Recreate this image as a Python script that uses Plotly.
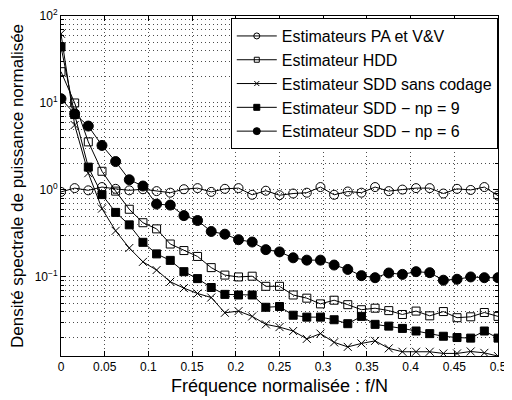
import plotly.graph_objects as go

k = list(range(33))
freq = [i / 64 for i in k]

pa_vv = [0.95, 1.05, 0.99, 1.08, 1.03, 0.99, 1.02, 0.97, 0.93, 1.02, 1.05, 0.95, 1.03, 1.05,
         0.88, 0.98, 0.87, 0.91, 0.93, 1.08, 0.88, 0.96, 0.93, 1.08, 0.97, 1.01, 1.05, 1.05,
         0.91, 1.03, 1.00, 1.08, 0.86]
hdd = [22.9, 10.0, 3.57, 1.64, 0.97, 0.60, 0.42, 0.357, 0.239, 0.201, 0.172, 0.128, 0.105,
       0.100, 0.102, 0.078, 0.078, 0.062, 0.057, 0.049, 0.054, 0.048, 0.042, 0.0437, 0.041,
       0.037, 0.0405, 0.0357, 0.040, 0.034, 0.0348, 0.039, 0.0352]
sdd_sans = [62.4, 5.58, 1.56, 0.61, 0.339, 0.215, 0.149, 0.12, 0.088, 0.0744, 0.0645, 0.058,
            0.0387, 0.0405, 0.0352, 0.0285, 0.0265, 0.0239, 0.0194, 0.0223, 0.0177, 0.0157,
            0.0172, 0.0184, 0.0151, 0.0138, 0.0138, 0.0138, 0.0132, 0.0132, 0.0139, 0.0134,
            0.0123]
sdd_np9 = [44.1, 7.36, 1.83, 0.884, 0.552, 0.397, 0.25, 0.184, 0.155, 0.115, 0.0957, 0.0756,
           0.063, 0.062, 0.062, 0.0448, 0.0457, 0.0363, 0.0345, 0.0345, 0.0322, 0.029, 0.0352,
           0.0285, 0.0272, 0.0256, 0.0239, 0.0223, 0.0208, 0.0201, 0.0198, 0.0239, 0.0198]
sdd_np6 = [11.2, 7.5, 5.43, 3.25, 2.12, 1.31, 1.11, 0.688, 0.67, 0.507, 0.445, 0.333, 0.31,
           0.268, 0.252, 0.206, 0.194, 0.166, 0.156, 0.156, 0.137, 0.122, 0.1035, 0.098, 0.111,
           0.107, 0.115, 0.112, 0.0917, 0.094, 0.1, 0.098, 0.098]

x_ticks = [0, 0.05, 0.1, 0.15, 0.2, 0.25, 0.3, 0.35, 0.4, 0.45, 0.5]
x_ticklabels = ["0", "0.05", "0.1", "0.15", "0.2", "0.25", "0.3", "0.35", "0.4", "0.45", "0.5"]
y_ticks = [0.1, 1, 10, 100]
y_ticklabels = ["10<sup>\u22121</sup>", "10<sup>0</sup>", "10<sup>1</sup>", "10<sup>2</sup>"]

names = ["Estimateurs PA et V&V", "Estimateur HDD", "Estimateur SDD sans codage",
         "Estimateur SDD \u2212 np = 9", "Estimateur SDD \u2212 np = 6"]
series = [pa_vv, hdd, sdd_sans, sdd_np9, sdd_np6]
symbols = ["circle-open", "square-open", "x-thin-open", "square", "circle"]
sizes = [9, 8, 8, 8, 10]
legend_sizes = [6, 5, 5, 6, 7]

fig = go.Figure()
for name, ys, sym, sz in zip(names, series, symbols, sizes):
    fig.add_trace(go.Scatter(
        x=freq, y=ys, mode="lines+markers", name=name, showlegend=False,
        line=dict(color="black", width=1),
        marker=dict(symbol=sym, size=sz, color="black",
                    line=dict(color="black", width=1)),
    ))
# legend entries (smaller symbols, like the reference legend)
for name, sym, sz in zip(names, symbols, legend_sizes):
    fig.add_trace(go.Scatter(
        x=[None], y=[None], mode="lines+markers", name=name, showlegend=True,
        line=dict(color="black", width=1),
        marker=dict(symbol=sym, size=sz, color="black",
                    line=dict(color="black", width=1)),
    ))

font = "Liberation Sans, Arial, sans-serif"
grid = "rgba(0,0,0,0.7)"
# the page body adds an 8px margin, so the figure is 504x392
fig.update_layout(
    width=504, height=392,
    margin=dict(l=53, r=14, t=8, b=44),
    paper_bgcolor="white", plot_bgcolor="white",
    font=dict(family=font, color="black", size=12),
    showlegend=True,
    legend=dict(x=0.9995, y=0.994, xanchor="right", yanchor="top",
                bgcolor="white", bordercolor="black", borderwidth=1,
                font=dict(size=16, family=font), tracegroupgap=0,
                itemwidth=40),
)
fig.update_xaxes(
    range=[0, 0.5], tickvals=x_ticks, ticktext=x_ticklabels, automargin=False,
    showline=True, linecolor="black", linewidth=1, mirror="ticks",
    ticks="inside", ticklen=5, tickcolor="black",
    showgrid=True, gridcolor=grid, griddash="1px,3px", gridwidth=1,
    zeroline=False, ticklabeloverflow="allow",
    title=dict(text="Fréquence normalisée : f/N", font=dict(size=18), standoff=5),
    tickfont=dict(size=12),
)
fig.update_yaxes(
    type="log", range=[-1.909, 2], automargin=False,
    tickvals=y_ticks, ticktext=y_ticklabels, ticklabeloverflow="allow",
    showline=True, linecolor="black", linewidth=1, mirror="ticks",
    ticks="inside", ticklen=5, tickcolor="black",
    showgrid=True, gridcolor=grid, griddash="1px,3px", gridwidth=1,
    minor=dict(showgrid=True, gridcolor=grid, griddash="1px,3px",
               ticks="inside", ticklen=3, tickcolor="black",
               tickvals=[v * m for m in [0.01, 0.1, 1, 10] for v in range(2, 10)]),
    zeroline=False,
    title=dict(text="Densité spectrale de puissance normalisée", font=dict(size=17), standoff=6),
    tickfont=dict(size=12),
)

fig.write_html("out.html")
